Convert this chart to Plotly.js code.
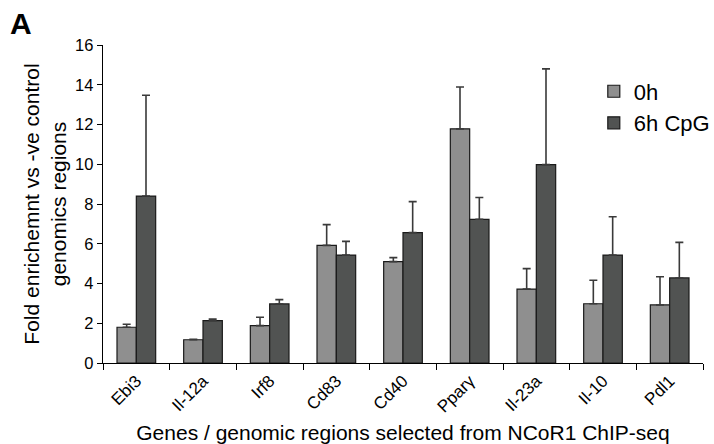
<!DOCTYPE html>
<html>
<head>
<meta charset="utf-8">
<script src="https://cdn.plot.ly/plotly-3.0.1.min.js"></script>
<style>html,body{margin:0;padding:0;background:#fff;}#chart{width:714px;height:444px;}</style>
</head>
<body>
<div id="chart"></div>
<script>
const genes = ["Ebi3", "Il-12a", "Irf8", "Cd83", "Cd40", "Pparγ", "Il-23a", "Il-10", "Pdl1"];
const vals0h = [1.8, 1.17, 1.88, 5.92, 5.1, 11.78, 3.72, 2.98, 2.92];
const err0h = [0.15, 0.02, 0.42, 1.04, 0.2, 2.11, 1.03, 1.18, 1.42];
const vals6h = [8.4, 2.13, 2.97, 5.43, 6.56, 7.23, 9.98, 5.43, 4.28];
const err6h = [5.07, 0.08, 0.22, 0.69, 1.56, 1.1, 4.82, 1.93, 1.79];
const zeros = genes.map(() => 0);

const font = "Liberation Sans, Arial, sans-serif";
function trace(name, y, err, color) {
  return {
    type: "bar", name: name, x: genes, y: y,
    marker: {color: color, line: {color: "#1a1a1a", width: 1.2}},
    error_y: {type: "data", array: err, arrayminus: zeros, symmetric: false,
              color: "#3a3a3a", thickness: 1.6, width: 4},
    hoverinfo: "skip"
  };
}
const data = [
  trace("0h", vals0h, err0h, "#8f8f8f"),
  trace("6h CpG", vals6h, err6h, "#515352")
];
const layout = {
  width: 714, height: 444,
  margin: {l: 103, r: 11, t: 45, b: 81, autoexpand: false},
  paper_bgcolor: "#fff", plot_bgcolor: "#fff",
  font: {family: font, color: "#000"},
  barmode: "group", bargap: 0.42, bargroupgap: 0,
  showlegend: true,
  legend: {x: 0.818, y: 0.92, xanchor: "left", yanchor: "top",
           font: {size: 22, family: font}, bgcolor: "rgba(0,0,0,0)",
           itemwidth: 30, tracegroupgap: 0},
  xaxis: {
    type: "category", tickangle: -45, tickfont: {size: 17},
    showline: true, linecolor: "#000", linewidth: 1.3,
    ticks: "outside", tickson: "boundaries", ticklen: 6, tickcolor: "#000", tickwidth: 1,
    showgrid: false, zeroline: false,
    title: {text: "Genes / genomic regions selected from NCoR1 ChIP-seq", font: {size: 21}, standoff: 12}
  },
  yaxis: {
    range: [0, 16], dtick: 2, tickfont: {size: 16.5},
    showline: true, linecolor: "#000", linewidth: 1.3,
    ticks: "outside", ticklen: 5, tickcolor: "#000", tickwidth: 1,
    showgrid: false, zeroline: false,
    title: {text: "Fold enrichemnt vs -ve control<br>genomics regions", font: {size: 21}, standoff: 2}
  },
  annotations: [{
    text: "<b>A</b>", xref: "paper", yref: "paper", x: -0.158, y: 1.125,
    xanchor: "left", yanchor: "top", showarrow: false,
    font: {size: 30, family: font, color: "#000"}
  }]
};
Plotly.newPlot("chart", data, layout, {displayModeBar: false, staticPlot: true});
</script>
</body>
</html>
